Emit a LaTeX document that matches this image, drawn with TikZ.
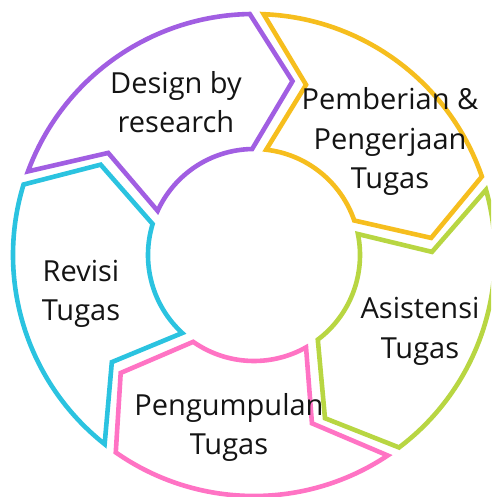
\documentclass[tikz,border=0pt]{standalone}
\usepackage{fontspec}
\setmainfont{Open Sans}
\definecolor{cpurple}{HTML}{A15EE2}
\definecolor{cyellow}{HTML}{F6BE1E}
\definecolor{cgreen}{HTML}{B8D642}
\definecolor{cpink}{HTML}{FF73C4}
\definecolor{ccyan}{HTML}{2BC3E0}
\begin{document}
\begin{tikzpicture}[x=1pt,y=1pt,
  seg/.style={line width=4.6pt, line join=miter, fill=white},
  lbl/.style={align=center, font=\fontsize{29}{39.5}\selectfont, text=black!92, inner sep=0pt}]
\useasboundingbox (0,0) rectangle (491,497);
\clip (0,0) rectangle (491,497);
\begin{scope}[shift={(254,242)}]
\foreach \L/\c in {91/cpurple, 19/cyellow, -53/cgreen, -125/cpink, -197/ccyan}{
  \draw[seg, draw=\c] ({\L+68.7}:241pt) arc[start angle={\L+68.7}, end angle=\L, radius=241pt]
    -- ({\L-13.5}:178pt) -- (\L:106pt)
    arc[start angle=\L, end angle={\L+64.4}, radius=106pt]
    -- ({\L+54}:178pt) -- cycle;
}
\end{scope}
\node[lbl] (design) at (176,395) {Design by\\research};
\node[lbl] (pemberian) at (390,355.5) {Pemberian \&\\Pengerjaan\\Tugas};
\node[lbl] (asistensi) at (420,165.5) {Asistensi\\Tugas};
\node[lbl] (pengumpulan) at (229,69.5) {Pengumpulan\\Tugas};
\node[lbl] (revisi) at (81,203) {Revisi\\Tugas};
\end{tikzpicture}
\end{document}
